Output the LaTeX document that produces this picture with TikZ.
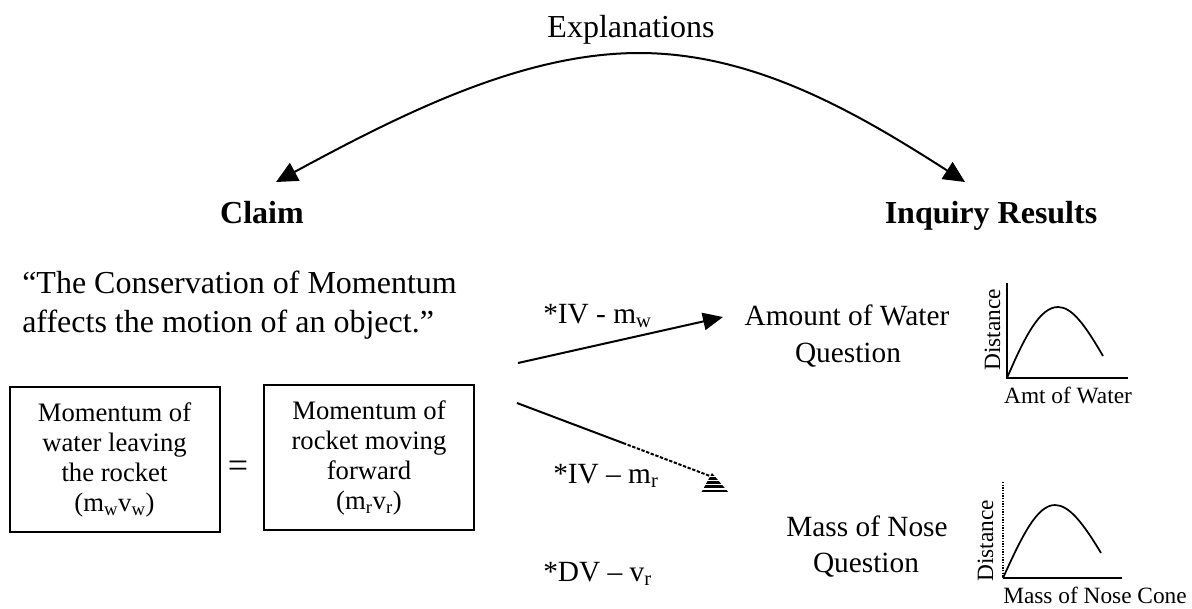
\documentclass[tikz,border=0pt]{standalone}
\usepackage{fontspec}
\setmainfont{Liberation Serif}
\usetikzlibrary{arrows.meta}
\begin{document}
\begin{tikzpicture}[x=0.75pt,y=-0.75pt,
  big/.style={font=\fontsize{24}{28}\selectfont, inner sep=0pt},
  bigb/.style={font=\fontsize{24}{28}\selectfont\bfseries, inner sep=0pt},
  lab/.style={font=\fontsize{22}{26}\selectfont, inner sep=0pt},
  glab/.style={font=\fontsize{17.5}{21}\selectfont, inner sep=0pt},
  momentbox/.style={draw, line width=1.5pt, minimum width=157.5pt, minimum height=108.75pt,
     inner sep=0pt, align=center, font=\fontsize{20}{22.5}\selectfont},
  conn/.style={line width=1.5pt},
  tip/.style={-{Triangle[length=15pt,width=13pt]}},
  axis/.style={line width=1.1pt},
  curve/.style={line width=1.3pt}
]
\useasboundingbox (0,0) rectangle (1192,608);

% titles
\node[big, anchor=base] (expl) at (631,37) {Explanations};
\node[bigb, anchor=base] (claim) at (262,223) {Claim};
\node[bigb, anchor=base] (inq) at (991,223) {Inquiry Results};

% explanations arc
\coordinate (arcL) at (276,182);
\coordinate (arcTop) at (639,53);
\coordinate (arcR) at (965,182);
\coordinate (c1) at (405,112);
\coordinate (c2) at (524,53);
\coordinate (c3) at (754,53);
\coordinate (c4) at (856,112);
\draw[conn, {Triangle[length=16pt,width=15pt]}-{Triangle[length=16pt,width=15pt]}]
  (arcL) .. controls (c1) and (c2) .. (arcTop) .. controls (c3) and (c4) .. (arcR);

% claim quote
\node[big, anchor=base west] (q1) at (22,293) {“The Conservation of Momentum};
\node[big, anchor=base west] (q2) at (22,332) {affects the motion of an object.”};

% boxes
\node[momentbox] (b1) at (114.5,459.5) {Momentum of\\water leaving\\the rocket\\(m\textsubscript{w}v\textsubscript{w})};
\node[momentbox] (b2) at (369,457.5) {Momentum of\\rocket moving\\forward\\(m\textsubscript{r}v\textsubscript{r})};
\node[font=\fontsize{27}{30}\selectfont, inner sep=0pt] (eq) at (238,469) {=};

% variable labels
\node[lab, anchor=base west] (ivw) at (543,323) {*IV - m\textsubscript{w}};
\node[lab, anchor=base west] (ivr) at (553,483) {*IV – m\textsubscript{r}};
\node[lab, anchor=base west] (dv) at (543,581) {*DV – v\textsubscript{r}};

% questions
\node[lab, anchor=base] (aw1) at (847,325) {Amount of Water};
\node[lab, anchor=base] (aw2) at (848,362) {Question};
\node[lab, anchor=base] (mn1) at (867,536) {Mass of Nose};
\node[lab, anchor=base] (mn2) at (866,572) {Question};

% upper arrow
\coordinate (a1s) at (518,363);
\coordinate (a1e) at (723,317);
\draw[conn, tip] (a1s) -- (a1e);

% lower arrow (solid, then dashed, hatched head)
\coordinate (a2s) at (517,403);
\coordinate (a2m) at (623,443);
\coordinate (a2e) at (710,476);
\draw[conn] (a2s) -- (a2m);
\draw[conn, dash pattern=on 2.5pt off 1.2pt] (a2m) -- (a2e);
\coordinate (h1) at (712,473);
\coordinate (h2) at (701,493);
\coordinate (h3) at (729,493);
\begin{scope}
  \clip (h1) -- (h2) -- (h3) -- cycle;
  \foreach \yy in {474.5,478.6,482.7,486.8,490.9}
    \draw[line width=2pt] (696,\yy) -- (734,\yy);
\end{scope}

% graph 1
\coordinate (g1o) at (1007,378);
\coordinate (g1y) at (1007,283);
\coordinate (g1x) at (1128,378);
\draw[axis] (g1y) -- (g1o) -- (g1x);
\draw[curve] (g1o) .. controls (1025,336) and (1040,307) .. (1058,307)
   .. controls (1072,307) and (1085,325) .. (1103,356);
\node[glab, rotate=90, anchor=base] (d1) at (1000,330) {Distance};
\node[glab, anchor=base] (amt) at (1068,403) {Amt of Water};

% graph 2
\coordinate (g2o) at (1003,578);
\coordinate (g2y) at (1003,482);
\coordinate (g2x) at (1122,578);
\draw[line width=1pt, densely dotted] (g2y) -- (g2o);
\draw[axis] (g2o) -- (g2x);
\draw[curve] (g2o) .. controls (1022,536) and (1037,505) .. (1055,505)
   .. controls (1069,505) and (1083,523) .. (1101,553);
\node[glab, rotate=90, anchor=base] (d2) at (993,541) {Distance};
\node[glab, anchor=base] (mnc) at (1095,603) {Mass of Nose Cone};
\end{tikzpicture}
\end{document}
